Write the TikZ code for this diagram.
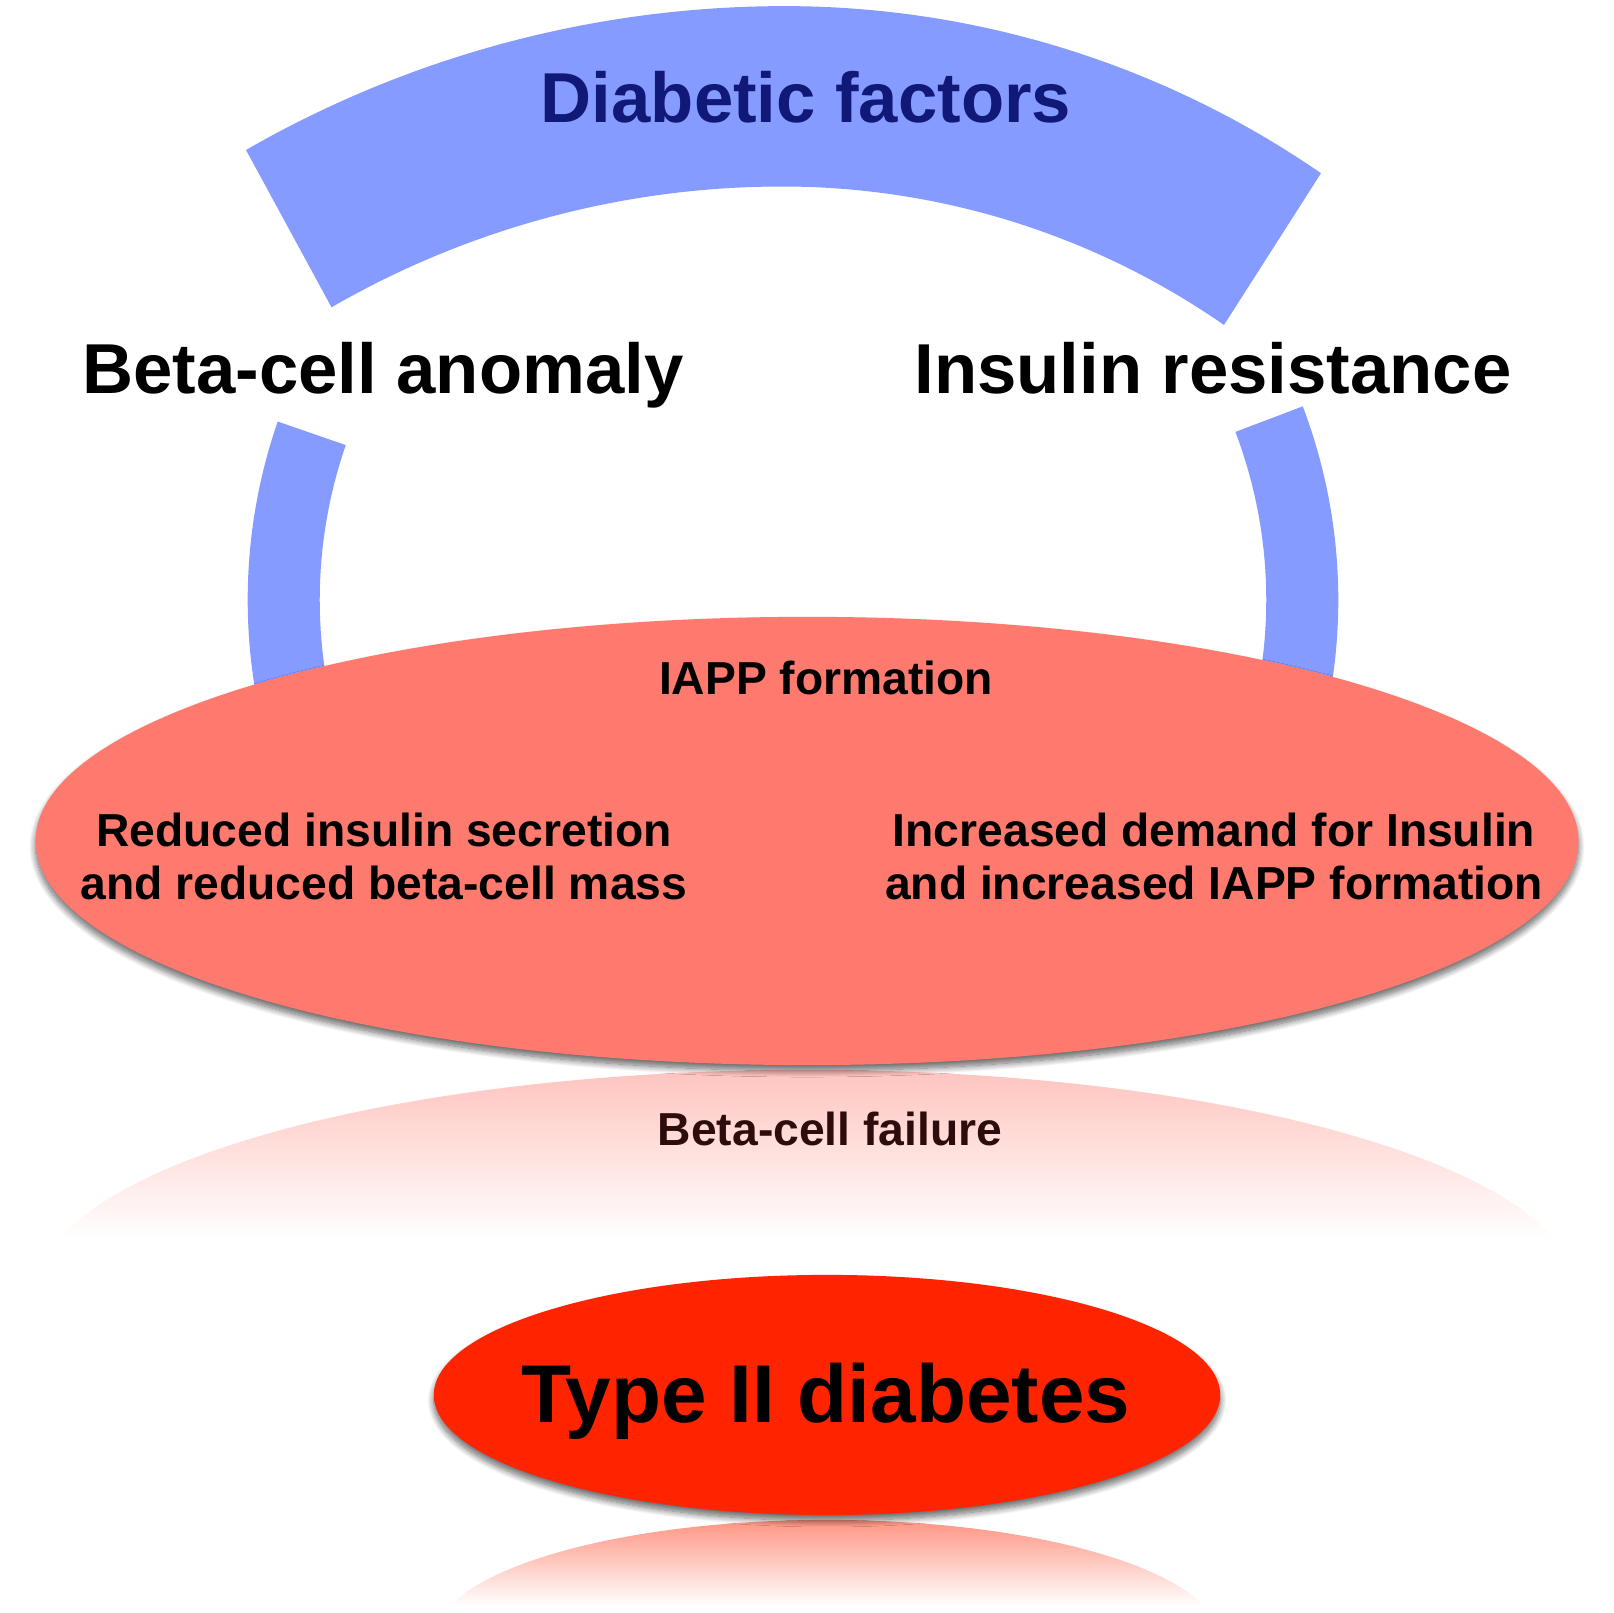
\documentclass[tikz,border=0pt]{standalone}
\usepackage{fontspec}
\setmainfont{Liberation Sans}
\definecolor{bandblue}{RGB}{134, 155, 255}
\definecolor{salmon1}{RGB}{255, 122, 110}
\definecolor{red1}{RGB}{255, 36, 0}
\definecolor{navy1}{RGB}{16, 24, 120}
\definecolor{brown1}{RGB}{45, 12, 12}
\usepackage{tikz}
\usetikzlibrary{shapes.geometric, shadows.blur, calc}

\tikzset{
  bigtxt/.style={font=\fontsize{20.1}{24}\selectfont\bfseries, anchor=base, inner sep=0pt},
  midtxt/.style={font=\fontsize{13.15}{15.08}\selectfont\bfseries, inner sep=0pt},
  blob/.style={ellipse, draw=none, inner sep=0pt,
    blur shadow={shadow xshift=0pt, shadow yshift=-1.6pt, shadow blur radius=1.8pt, shadow blur steps=12, shadow opacity=60}},
}

\begin{document}
\begin{tikzpicture}[x=0.01cm, y=0.01cm]
  \useasboundingbox (0,0) rectangle (1614,1613);

  % Diabetic factors band
  \fill[bandblue] (246,1463) arc[start angle=119.9, end angle=90, radius=10.8cm]
    arc[start angle=90, end angle=55.4, radius=9.44cm]
    -- (1224,1288) arc[start angle=55.2, end angle=90, radius=7.736cm]
    arc[start angle=90, end angle=120, radius=9.01cm] -- cycle;

  % side arcs
  \fill[bandblue, shift={(793,1013)}] (160.9:5.45cm) arc[start angle=160.9, end angle=200, radius=5.45cm]
    -- (200:4.73cm) arc[start angle=200, end angle=160.9, radius=4.73cm] -- cycle;
  \fill[bandblue, shift={(793,1013)}] (20.8:5.45cm) arc[start angle=20.8, end angle=-20, radius=5.45cm]
    -- (-20:4.73cm) arc[start angle=-20, end angle=20.8, radius=4.73cm] -- cycle;

  % reflections
  \begin{scope}
    \clip (807,319) ellipse [x radius=7.71cm, y radius=2.24cm];
    \shade[top color=salmon1!45!white, bottom color=white] (0,545) rectangle (1614,375);
  \end{scope}
  \begin{scope}
    \clip (827,-27) ellipse [x radius=3.93cm, y radius=1.20cm];
    \shade[top color=red1!50!white, bottom color=white] (0,95) rectangle (1614,8);
  \end{scope}

  % ellipses
  \node[blob, fill=salmon1, minimum width=15.42cm, minimum height=4.48cm] (core) at (807,772) {};
  \node[blob, fill=red1, minimum width=7.86cm, minimum height=2.40cm] (t2d) at (827,218) {};

  % labels
  \node[bigtxt, text=navy1] (factors) at (806,1490) {Diabetic factors};
  \node[bigtxt] (anomaly) at (383,1219) {Beta-cell anomaly};
  \node[bigtxt] (resist) at (1213,1219) {Insulin resistance};
  \node[midtxt, anchor=base] (iapp) at (826,918) {IAPP formation};
  \node[midtxt, align=center, anchor=north] (reduced) at (384,801) {Reduced insulin secretion\\and reduced beta-cell mass};
  \node[midtxt, align=center, anchor=north] (demand) at (1214,801) {Increased demand for Insulin\\and increased IAPP formation};
  \node[midtxt, anchor=base, text=brown1] (failure) at (830,467) {Beta-cell failure};
  \node[font=\fontsize{23.3}{28}\selectfont\bfseries, anchor=base, inner sep=0pt] (t2dtxt) at (826,190) {Type II diabetes};
\end{tikzpicture}
\end{document}
